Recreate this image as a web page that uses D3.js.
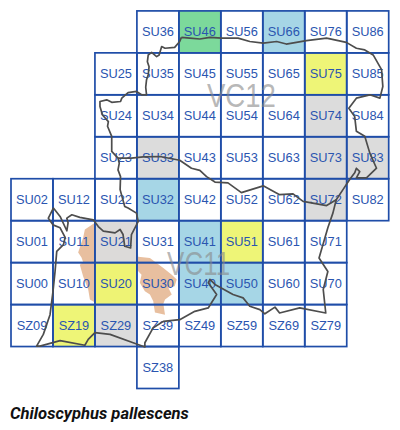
<!DOCTYPE html>
<html>
<head>
<meta charset="utf-8">
<script src="https://cdn.jsdelivr.net/npm/d3@7"></script>
<style>
html, body { margin: 0; padding: 0; background: #fff; }
svg { display: block; }
</style>
</head>
<body>
<div id="chart"></div>
<script>
// Grid squares by row, north to south
const ROW_36 = ["SU36", "SU46", "SU56", "SU66", "SU76", "SU86"];
const ROW_35 = ["SU25", "SU35", "SU45", "SU55", "SU65", "SU75", "SU85"];
const ROW_34 = ["SU24", "SU34", "SU44", "SU54", "SU64", "SU74", "SU84"];
const ROW_33 = ["SU23", "SU33", "SU43", "SU53", "SU63", "SU73", "SU83"];
const ROW_32 = ["SU02", "SU12", "SU22", "SU32", "SU42", "SU52", "SU62", "SU72", "SU82"];
const ROW_31 = ["SU01", "SU11", "SU21", "SU31", "SU41", "SU51", "SU61", "SU71"];
const ROW_30 = ["SU00", "SU10", "SU20", "SU30", "SU40", "SU50", "SU60", "SU70"];
const ROW_Z9 = ["SZ09", "SZ19", "SZ29", "SZ39", "SZ49", "SZ59", "SZ69", "SZ79"];
const ROW_Z8 = ["SZ38"];

// Record class of each coloured square
const GREEN_SQUARES = ["SU46"];
const BLUE_SQUARES = ["SU66", "SU32", "SU41", "SU40", "SU50"];
const YELLOW_SQUARES = ["SU75", "SU51", "SU20", "SZ19"];
const GREY_SQUARES = ["SU74", "SU73", "SU83", "SU72", "SU33", "SU21", "SZ29"];

// Outlines as [easting km, northing km] from the SU00 corner
const COUNTY_OUTLINE = [
  [40.6,63.7],[42.6,63.5],[45,63.3],[47.4,63.7],[50.2,63.5],[54.1,63.5],[56.9,62.7],[60.1,62.3],
  [63.3,62.7],[65.6,62.1],[70.4,62.9],[75.2,63.5],[79.9,62.5],[82.3,61.1],[84.3,60.7],[86.3,59.5],
  [88.3,56],[88.6,52],[87.9,49.2],[85.5,50],[82.3,49.2],[80.5,46.8],[81.9,44.8],[82.3,41.3],
  [84.3,40.1],[85.5,36.1],[87.1,32.5],[84.7,30.2],[82.3,30.2],[83.1,31.7],[82.3,32.5],[81.9,31.4],
  [80.7,29.8],[79.1,27.4],[77.5,25],[76.7,21.8],[75.5,18.3],[73.4,11.1],[75.5,7.9],[74.4,3.6],
  [75,-2],[68.8,-0.8],[64,-2],[62.9,-0.6],[60.5,-2.2],[59.3,-1.2],[56.9,-0.4],[55.3,1.6],
  [52.9,2.4],[48.6,4.8],[47.4,6],[47,5.2],[49,2.4],[47,-0.8],[43.8,-1.6],[40.2,-3.6],
  [36.3,-4],[33.9,-5.5],[31.9,-9.1],[31.9,-10.1],[29.1,-9.1],[23.6,-7.1],[20,-6.7],[18.4,-8.3],
  [17.6,-9.7],[11.7,-8.6],[6.9,-9.9],[6.1,-9.9],[7.7,-7.1],[9.3,-2.4],[10,3.1],[10.5,7.9],
  [10.9,12.7],[12.5,14.3],[12.9,16],[11.7,18.3],[10,19],[8.9,20.6],[10.1,23],[11.7,21],
  [13.3,17.6],[13.6,19.5],[13.3,20.6],[14.5,21.4],[16.4,20.8],[19.6,20.2],[20.8,18.6],[22,17.5],
  [24.8,17.1],[26,17.9],[26.7,16.7],[27.1,13.9],[28.5,13.5],[28.7,16.7],[30.3,19.8],[29.9,21.8],
  [27.9,23],[27.1,23.4],[26,27.4],[26.1,30.5],[25.5,32.1],[25.8,33.7],[25.5,34.9],[24,36.5],
  [24,40.1],[23,42.5],[23.2,43.6],[21.8,45.2],[21.2,47.2],[21.2,48.4],[22.8,48.8],[24,48.2],
  [26.1,48.4],[26.4,49.2],[27.9,50.5],[29.9,50.8],[31.1,50],[32.3,50],[32.1,51.8],[32.3,53.6],
  [32.7,54.8],[32.9,56.7],[32.5,57.9],[32.7,59.5],[33.5,60.1],[34.7,59.1],[35.3,59.5],[35.9,61.5],
  [36.7,61.1],[39,61.3],[40.2,62.7],[40.6,63.7]
];
const VC_DIVIDE = [
  [25.5,34.9],[28.7,34.9],[31.5,35.2],[35.5,35.3],[40.2,34.4],[43,32.5],[45,32],[46.6,30.5],
  [48.6,29.2],[51.7,29],[54.9,26.7],[60.1,28.3],[64,26.2],[67.2,26.4],[69.6,24.6],[75.2,23.6],[77.5,25]
];
const URBAN_AREA = [
  [20,19.5],[17.6,17.9],[17.2,16],[16,12.4],[16.8,11.2],[17.2,10.1],[16.4,9.5],[17.2,6.7],
  [18.4,3.6],[18.8,1.2],[20,0.5],[30,0.5],[30,8.3],[31.1,7.1],[30.7,5.2],[31.9,3.2],[33.1,2.4],
  [33.9,0.8],[34,0],[34.3,-1.9],[36.7,-2.4],[36.3,0.2],[36.7,1.2],[38.3,2.4],[37.5,4],[39,4.4],
  [39.5,6],[38.3,7.1],[36.3,8.7],[34.7,9.9],[33.1,11.1],[30.3,11.4],[30,19.5]
];

const TITLE = "Chiloscyphus pallescens";

const GRID_ROWS = [ROW_36, ROW_35, ROW_34, ROW_33, ROW_32, ROW_31, ROW_30, ROW_Z9, ROW_Z8];
const squares = GRID_ROWS.flat();

const width = 400;
const height = 430;

const x = d3.scaleLinear().domain([0, 90]).range([11, 388.7]);
const y = d3.scaleLinear().domain([70, -20]).range([10.9, 388.5]);

// Square name to south west corner in km
function corner(name) {
  const east = +name[2] * 10;
  const north = +name[3] * 10 - (name[1] === "Z" ? 100 : 0);
  return [east, north];
}

function squareFill(name) {
  if (GREEN_SQUARES.includes(name)) return "#78d898";
  if (BLUE_SQUARES.includes(name)) return "#a3d5e5";
  if (YELLOW_SQUARES.includes(name)) return "#edf573";
  if (GREY_SQUARES.includes(name)) return "#dbdbdb";
  return "none";
}

const svg = d3.select("#chart").append("svg")
  .attr("width", width)
  .attr("height", height);

const line = d3.line().x(d => x(d[0])).y(d => y(d[1]));

svg.append("path")
  .attr("d", line(URBAN_AREA) + "Z")
  .attr("fill", "#e8bf9f");

const cells = svg.append("g").selectAll("g")
  .data(squares)
  .join("g");

cells.append("rect")
  .attr("x", d => x(corner(d)[0]))
  .attr("y", d => y(corner(d)[1] + 10))
  .attr("width", x(10) - x(0))
  .attr("height", y(0) - y(10))
  .attr("fill", d => squareFill(d))
  .attr("fill-opacity", 0.97);

svg.append("g").selectAll("rect")
  .data(squares)
  .join("rect")
  .attr("x", d => x(corner(d)[0]))
  .attr("y", d => y(corner(d)[1] + 10))
  .attr("width", x(10) - x(0))
  .attr("height", y(0) - y(10))
  .attr("fill", "none")
  .attr("stroke", "#1f4da8")
  .attr("stroke-width", 1.7);

svg.append("g").selectAll("text")
  .data(squares)
  .join("text")
  .attr("x", d => x(corner(d)[0] + 5))
  .attr("y", d => y(corner(d)[1] + 5))
  .attr("dy", "0.36em")
  .attr("text-anchor", "middle")
  .attr("font-family", "'Liberation Sans', Arial, sans-serif")
  .attr("font-size", "12.8px")
  .attr("fill", "#2a55b0")
  .text(d => d);

// Vice county labels, squeezed like the source map
svg.append("text")
  .attr("x", x(46.7))
  .attr("y", y(47.1))
  .attr("textLength", 69)
  .attr("lengthAdjust", "spacingAndGlyphs")
  .attr("font-family", "'Liberation Sans', Arial, sans-serif")
  .attr("font-size", "33px")
  .attr("fill", "#888")
  .attr("fill-opacity", 0.6)
  .text("VC12");

svg.append("text")
  .attr("x", x(37.2))
  .attr("y", y(7.1))
  .attr("textLength", 63)
  .attr("lengthAdjust", "spacingAndGlyphs")
  .attr("font-family", "'Liberation Sans', Arial, sans-serif")
  .attr("font-size", "33px")
  .attr("fill", "#888")
  .attr("fill-opacity", 0.6)
  .text("VC11");

svg.append("path")
  .attr("d", line(COUNTY_OUTLINE))
  .attr("fill", "none")
  .attr("stroke", "#4d4d4d")
  .attr("stroke-width", 1.7)
  .attr("stroke-linejoin", "round");

svg.append("path")
  .attr("d", line(VC_DIVIDE))
  .attr("fill", "none")
  .attr("stroke", "#4d4d4d")
  .attr("stroke-width", 1.7)
  .attr("stroke-linejoin", "round");

svg.append("text")
  .attr("x", 10)
  .attr("y", 419)
  .attr("font-family", "Roboto, sans-serif")
  .attr("font-size", "16.6px")
  .attr("font-weight", "bold")
  .attr("font-style", "italic")
  .attr("fill", "#111")
  .text(TITLE);
</script>
</body>
</html>
